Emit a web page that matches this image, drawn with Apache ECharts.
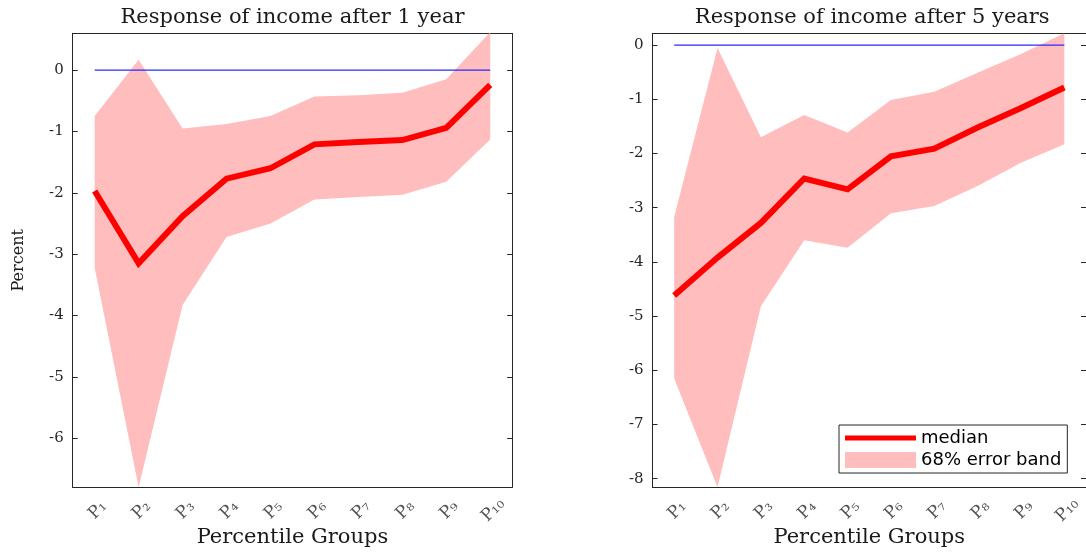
<!DOCTYPE html>
<html><head><meta charset="utf-8">
<script src="https://cdn.jsdelivr.net/npm/echarts@6/dist/echarts.min.js"></script>
<style>html,body{margin:0;padding:0;background:#fff}#c{width:1086px;height:554px}</style>
</head><body><div id="c"></div>
<script>
// ---- data ----
const groupNumbers = ['1','2','3','4','5','6','7','8','9','10'];
const panelTitles = ['Response of income after 1 year', 'Response of income after 5 years'];
const xName = 'Percentile Groups';
const yName = 'Percent';

const median1 = [-1.97, -3.15, -2.38, -1.77, -1.60, -1.21, -1.17, -1.14, -0.94, -0.24];
const upper1  = [-0.75, 0.17, -0.95, -0.88, -0.75, -0.43, -0.41, -0.37, -0.15, 0.62];
const lower1  = [-3.22, -6.80, -3.83, -2.72, -2.50, -2.11, -2.07, -2.03, -1.82, -1.13];

const median5 = [-4.62, -3.92, -3.28, -2.46, -2.66, -2.05, -1.91, -1.52, -1.16, -0.78];
const upper5  = [-3.17, -0.05, -1.70, -1.29, -1.61, -1.01, -0.86, -0.51, -0.16, 0.22];
const lower5  = [-6.15, -8.16, -4.82, -3.60, -3.74, -3.10, -2.97, -2.60, -2.17, -1.83];

const zeroLine = [0, 0, 0, 0, 0, 0, 0, 0, 0, 0];

const yTicks1 = [-6, -5, -4, -3, -2, -1, 0];
const yTicks5 = [-8, -7, -6, -5, -4, -3, -2, -1, 0];
const yRange1 = [-6.8, 0.6];
const yRange5 = [-8.16, 0.22];

// ---- styling ----
const AX = '#262626';
const RED = '#ff0000';
const PINK = '#ffbdbd';
const BLUE = '#2a2aff';
const SERIF = 'DejaVu Serif';
const SUBS = {'0':'\u2080','1':'\u2081','2':'\u2082','3':'\u2083','4':'\u2084','5':'\u2085','6':'\u2086','7':'\u2087','8':'\u2088','9':'\u2089'};
const toSub = s => s.split('').map(c => SUBS[c]).join('');

const grids = [
  {left: 72.7, top: 33.3, width: 439.5, height: 454},
  {left: 652.5, top: 33.3, width: 439.5, height: 454}
];

const panels = [
  {median: median1, upper: upper1, lower: lower1, ticks: yTicks1, range: yRange1, yName: yName},
  {median: median5, upper: upper5, lower: lower5, ticks: yTicks5, range: yRange5, yName: ''}
];

const xAxes = [], yAxes = [], series = [], graphics = [];
panels.forEach((p, k) => {
  xAxes.push({
    gridIndex: k, type: 'category', data: groupNumbers, boundaryGap: true, position: 'bottom',
    axisLine: {onZero: false, lineStyle: {color: AX, width: 1}},
    axisTick: {inside: true, length: 5, alignWithLabel: true, interval: 0, lineStyle: {color: AX}},
    axisLabel: {show: false},
    splitLine: {show: false},
    name: xName, nameLocation: 'middle', nameGap: 40, nameMoveOverlap: false,
    nameTextStyle: {fontFamily: SERIF, fontSize: 21, color: '#1a1a1a'}
  });
  xAxes.push({
    gridIndex: k, type: 'category', data: groupNumbers, boundaryGap: true, position: 'top',
    axisLine: {onZero: false, lineStyle: {color: AX, width: 1}},
    axisTick: {inside: true, length: 5, alignWithLabel: true, interval: 0, lineStyle: {color: AX}},
    axisLabel: {show: false}, splitLine: {show: false}
  });
  yAxes.push({
    gridIndex: k, type: 'value', min: p.range[0], max: p.range[1], position: 'left',
    axisLine: {show: true, onZero: false, lineStyle: {color: AX, width: 1}},
    axisTick: {show: true, inside: true, length: 5, customValues: p.ticks, lineStyle: {color: AX}},
    axisLabel: {customValues: p.ticks, margin: 9, fontFamily: SERIF, fontSize: 15, color: AX},
    splitLine: {show: false},
    name: p.yName, nameLocation: 'middle', nameGap: 46, nameRotate: 90, nameMoveOverlap: false,
    nameTextStyle: {fontFamily: SERIF, fontSize: 16, color: '#1a1a1a'}
  });
  yAxes.push({
    gridIndex: k, type: 'value', min: p.range[0], max: p.range[1], position: 'right',
    axisLine: {show: true, onZero: false, lineStyle: {color: AX, width: 1}},
    axisTick: {show: true, inside: true, length: 5, customValues: p.ticks, lineStyle: {color: AX}},
    axisLabel: {show: false}, splitLine: {show: false}
  });

  const xi = 2 * k, yi = 2 * k;
  series.push({
    name: 'bandBase' + k, type: 'line', xAxisIndex: xi, yAxisIndex: yi,
    data: p.lower, stack: 'band' + k, stackStrategy: 'all',
    symbol: 'none', lineStyle: {opacity: 0, width: 0}, silent: true, z: 1
  });
  series.push({
    name: '68% error band', type: 'line', xAxisIndex: xi, yAxisIndex: yi,
    data: p.upper.map((u, i) => u - p.lower[i]), stack: 'band' + k, stackStrategy: 'all',
    symbol: 'none', lineStyle: {opacity: 0, width: 0},
    areaStyle: {color: PINK, opacity: 1}, itemStyle: {color: PINK}, silent: true, z: 1
  });
  series.push({
    name: 'zero' + k, type: 'line', xAxisIndex: xi, yAxisIndex: yi, data: zeroLine,
    symbol: 'none', lineStyle: {color: BLUE, width: 1.2}, silent: true, z: 2
  });
  series.push({
    name: 'median', type: 'line', xAxisIndex: xi, yAxisIndex: yi, data: p.median,
    symbol: 'none', lineStyle: {color: RED, width: 6, join: 'miter'}, itemStyle: {color: RED},
    silent: true, z: 3
  });
  // rotated category tick labels, centred under each tick of the bottom axis
  series.push({
    name: 'xlabels' + k, type: 'scatter', xAxisIndex: xi, yAxisIndex: yi,
    data: groupNumbers.map(g => [g, p.range[0]]),
    symbolSize: 0, silent: true, z: 5,
    label: {show: true, position: 'inside', formatter: d => 'P' + toSub(d.value[0]),
            rotate: 45, align: 'center', verticalAlign: 'middle', offset: [-14.1, 18.4],
            fontFamily: SERIF, fontSize: 17, color: AX}
  });

  graphics.push({
    type: 'text', x: grids[k].left + grids[k].width / 2, y: 18,
    style: {text: panelTitles[k], textAlign: 'center', textVerticalAlign: 'middle',
            fontFamily: SERIF, fontSize: 21, fill: '#1a1a1a'}
  });
});

const chart = echarts.init(document.getElementById('c'), null, {renderer: 'canvas'});
chart.setOption({
  animation: false,
  backgroundColor: '#fff',
  grid: grids,
  xAxis: xAxes,
  yAxis: yAxes,
  series: series,
  graphic: graphics,
  legend: {
    orient: 'vertical', left: 839, top: 425, padding: [4, 6, 4, 6], itemGap: 4,
    itemWidth: 71, itemHeight: 16, selectedMode: false,
    backgroundColor: '#fff', borderColor: AX, borderWidth: 1,
    textStyle: {fontFamily: 'DejaVu Sans', fontSize: 18, color: '#000'},
    data: [
      {name: 'median', icon: 'path://M0,0 L0,0 M0,5.5 L71,5.5 L71,10.5 L0,10.5 Z M0,16 L0,16',
       itemStyle: {color: RED, borderWidth: 0}},
      {name: '68% error band', icon: 'rect', itemStyle: {color: PINK, borderWidth: 0}}
    ]
  }
});
</script>
</body></html>
